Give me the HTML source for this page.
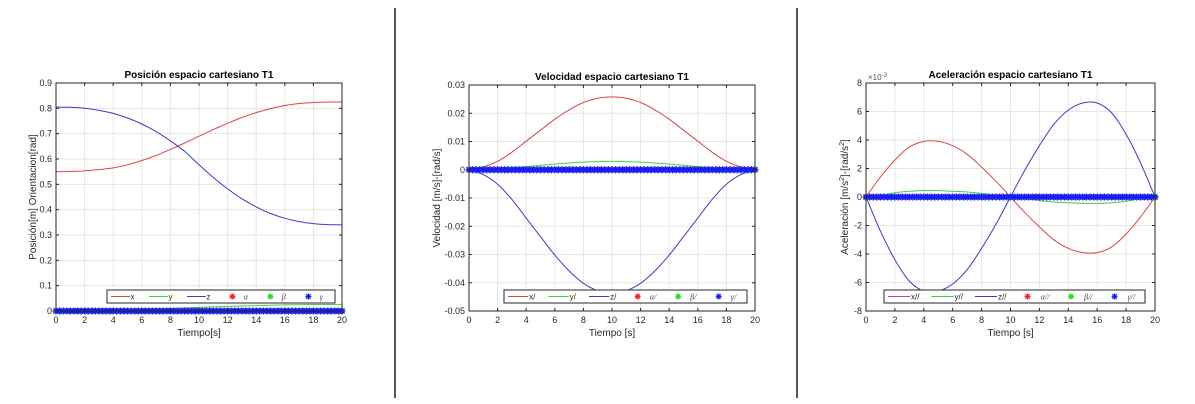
<!DOCTYPE html>
<html><head><meta charset="utf-8"><style>
html,body{margin:0;padding:0;background:#fff;width:1195px;height:404px;overflow:hidden}
svg{display:block;font-family:"Liberation Sans",sans-serif}
</style></head><body>
<svg id="fig" width="1195" height="404">
<line x1="395" y1="8" x2="395" y2="398" stroke="#222" stroke-width="1.5"/>
<line x1="797" y1="8" x2="797" y2="398" stroke="#222" stroke-width="1.5"/>
</svg>
<script>
const times = [0,1,2,3,4,5,6,7,8,9,10,11,12,13,14,15,16,17,18,19,20];
const markerTimes = [0,0.25,0.5,0.75,1,1.25,1.5,1.75,2,2.25,2.5,2.75,3,3.25,3.5,3.75,4,4.25,4.5,4.75,5,5.25,5.5,5.75,6,6.25,6.5,6.75,7,7.25,7.5,7.75,8,8.25,8.5,8.75,9,9.25,9.5,9.75,10,10.25,10.5,10.75,11,11.25,11.5,11.75,12,12.25,12.5,12.75,13,13.25,13.5,13.75,14,14.25,14.5,14.75,15,15.25,15.5,15.75,16,16.25,16.5,16.75,17,17.25,17.5,17.75,18,18.25,18.5,18.75,19,19.25,19.5,19.75,20];
const angleZeros = [0,0,0,0,0,0,0,0,0,0,0,0,0,0,0,0,0,0,0,0,0,0,0,0,0,0,0,0,0,0,0,0,0,0,0,0,0,0,0,0,0,0,0,0,0,0,0,0,0,0,0,0,0,0,0,0,0,0,0,0,0,0,0,0,0,0,0,0,0,0,0,0,0,0,0,0,0,0,0,0,0];

const posX = [0.55,0.5505,0.553,0.558,0.565,0.577,0.594,0.614,0.638,0.663,0.690,0.716,0.741,0.764,0.783,0.799,0.811,0.819,0.823,0.825,0.825];
const posY = [0,0.0002,0.0008,0.0017,0.003,0.0045,0.0063,0.0082,0.0102,0.0122,0.0142,0.0162,0.0181,0.0199,0.0215,0.0229,0.024,0.0249,0.0255,0.0258,0.026];
const posZ = [0.805,0.804,0.800,0.792,0.780,0.762,0.738,0.708,0.672,0.630,0.577,0.527,0.482,0.443,0.411,0.385,0.366,0.353,0.345,0.341,0.340];
const velX = [0,0.0010,0.0030,0.0062,0.0101,0.0140,0.0179,0.0212,0.0238,0.0253,0.0258,0.0253,0.0238,0.0212,0.0179,0.0140,0.0101,0.0062,0.0030,0.0010,0];
const velY = [0,0.0001,0.0004,0.0007,0.0011,0.0016,0.0020,0.0024,0.0027,0.0029,0.003,0.0029,0.0027,0.0024,0.0020,0.0016,0.0011,0.0007,0.0004,0.0001,0];
const velZ = [0,-0.0017,-0.0051,-0.0105,-0.0171,-0.0237,-0.0302,-0.0358,-0.0402,-0.0428,-0.0436,-0.0428,-0.0402,-0.0358,-0.0302,-0.0237,-0.0171,-0.0105,-0.0051,-0.0017,0];
const accX = [0,0.0014,0.0026,0.0035,0.0039,0.0039,0.0036,0.0030,0.0021,0.0011,0,-0.0011,-0.0021,-0.0030,-0.0036,-0.0039,-0.0039,-0.0035,-0.0026,-0.0014,0];
const accY = [0,0.0001,0.0003,0.0004,0.00045,0.00045,0.0004,0.00035,0.00025,0.0001,0,-0.0001,-0.00025,-0.00035,-0.0004,-0.00045,-0.00045,-0.0004,-0.0003,-0.0001,0];
const accZ = [0,-0.0024,-0.0044,-0.0059,-0.0066,-0.0066,-0.0061,-0.0051,-0.0036,-0.0019,0,0.0019,0.0036,0.0051,0.0061,0.0066,0.0066,0.0059,0.0044,0.0024,0];

const xTicks = [0,2,4,6,8,10,12,14,16,18,20];
const posTicks = [0,0.1,0.2,0.3,0.4,0.5,0.6,0.7,0.8,0.9];
const posTickLabels = ["0","0.1","0.2","0.3","0.4","0.5","0.6","0.7","0.8","0.9"];
const velTicks = [-0.05,-0.04,-0.03,-0.02,-0.01,0,0.01,0.02,0.03];
const velTickLabels = ["-0.05","-0.04","-0.03","-0.02","-0.01","0","0.01","0.02","0.03"];
const accTicks = [-0.008,-0.006,-0.004,-0.002,0,0.002,0.004,0.006,0.008];
const accTickLabels = ["-8","-6","-4","-2","0","2","4","6","8"];

const NS="http://www.w3.org/2000/svg";
const svg=document.getElementById('fig');
function mk(tag,attrs,parent,txt){const e=document.createElementNS(NS,tag);for(const k in attrs)e.setAttribute(k,attrs[k]);if(txt!==undefined)e.textContent=txt;(parent||svg).appendChild(e);return e;}
function smooth(pts){
  let d='M'+pts[0][0].toFixed(1)+','+pts[0][1].toFixed(1);
  for(let i=0;i<pts.length-1;i++){
    const p0=pts[i-1]||pts[i],p1=pts[i],p2=pts[i+1],p3=pts[i+2]||p2;
    const c1x=p1[0]+(p2[0]-p0[0])/6,c1y=p1[1]+(p2[1]-p0[1])/6;
    const c2x=p2[0]-(p3[0]-p1[0])/6,c2y=p2[1]-(p3[1]-p1[1])/6;
    d+=`C${c1x.toFixed(1)},${c1y.toFixed(1)} ${c2x.toFixed(1)},${c2y.toFixed(1)} ${p2[0].toFixed(1)},${p2[1].toFixed(1)}`;
  }
  return d;
}

function panel(cfg){
  const g=mk('g',{});
  
  
  const L=cfg.L,R=cfg.R,T=cfg.T,B=cfg.B;
  const sx=t=>L+(t-0)/20*(R-L);
  const sy=v=>B-(v-cfg.ymin)/(cfg.ymax-cfg.ymin)*(B-T);
  xTicks.forEach(t=>{const l=mk('line',{x1:sx(t),x2:sx(t),y1:T,y2:B,stroke:'#e6e6e6','stroke-width':1},g);
    });
  cfg.yt.forEach(v=>{const l=mk('line',{x1:L,x2:R,y1:sy(v),y2:sy(v),stroke:'#e6e6e6','stroke-width':1},g);
    });
  const cols=['#d9464a','#3fd13f','#3b3bc8'];
  cfg.series.forEach((s,i)=>{
    const d=smooth(times.map((t,j)=>[sx(t),sy(s[j])]));
    const p=mk('path',{d:d,fill:'none',stroke:cols[i],'stroke-width':1},g);
    
    
  });
  const mcols=['#ff2020','#20e020','#1a1aff'];
  mcols.forEach((c,i)=>{
    const mg=mk('g',{stroke:c,'stroke-width':1.3},g);
    
    
    markerTimes.forEach((t,j)=>{
      const x=sx(t),y=sy(angleZeros[j]);
      mk('path',{d:`M${x-3.5},${y}h7M${x},${y-3.5}v7M${x-2.5},${y-2.5}l5,5M${x-2.5},${y+2.5}l5,-5`},mg);
    });
  });
  const box=mk('rect',{x:L,y:T,width:R-L,height:B-T,fill:'none',stroke:'#262626','stroke-width':1},g);
  
  xTicks.forEach(t=>{
    mk('line',{x1:sx(t),x2:sx(t),y1:B,y2:B-3,stroke:'#262626'},g);
    mk('line',{x1:sx(t),x2:sx(t),y1:T,y2:T+3,stroke:'#262626'},g);
    const tx=mk('text',{x:sx(t),y:B+12,'font-size':9,fill:'#262626','text-anchor':'middle'},g,String(t));
    
  });
  cfg.yt.forEach((v,i)=>{
    mk('line',{x1:L,x2:L+3,y1:sy(v),y2:sy(v),stroke:'#262626'},g);
    mk('line',{x1:R,x2:R-3,y1:sy(v),y2:sy(v),stroke:'#262626'},g);
    const tx=mk('text',{x:L-4,y:sy(v)+3,'font-size':9,fill:'#262626','text-anchor':'end'},g,cfg.ytl[i]);
    
  });
  if(cfg.exp){const e=mk('text',{x:L+2,y:T-3,'font-size':8,fill:'#555'},g,'×10');
    mk('tspan',{dy:-3,'font-size':6},e,'-3');
    }
  const tt=mk('text',{x:(L+R)/2,y:T-5,'font-size':10,'font-weight':'bold','text-anchor':'middle',fill:'#000'},g,cfg.title);
  
  const xl=mk('text',{x:(L+R)/2,y:B+25,'font-size':10,'text-anchor':'middle',fill:'#262626'},g,cfg.xlabel);
  
  const yl=mk('text',{x:0,y:0,'font-size':10,'text-anchor':'middle',fill:'#262626',transform:`translate(${cfg.ylx},${(T+B)/2}) rotate(-90)`},g);
  yl.innerHTML=cfg.ylabel;
  
  const lg=mk('g',{},g);
  
  const lx=cfg.lg[0],lw=cfg.lg[1],ly=290,lh=13;
  mk('rect',{x:lx,y:ly,width:lw,height:lh,fill:'#fff',stroke:'#262626','stroke-width':1},lg);
  const step=lw/6;
  for(let i=0;i<6;i++){
    const x0=lx+i*step;const cy=ly+lh/2;
    const ent=mk('g',{},lg);
    
    if(i<3){mk('line',{x1:x0+4,x2:x0+step*0.6,y1:cy,y2:cy,stroke:cols[i]},ent);
      mk('text',{x:x0+step*0.62,y:cy+3,'font-size':8,fill:'#262626'},ent,cfg.lgt[i]);}
    else{const c=mcols[i-3],x=x0+step*0.3;
      mk('path',{d:`M${x-3},${cy}h6M${x},${cy-3}v6M${x-2.2},${cy-2.2}l4.4,4.4M${x-2.2},${cy+2.2}l4.4,-4.4`,stroke:c,'stroke-width':1.3},ent);
      mk('text',{x:x0+step*0.6,y:cy+3,'font-size':8,'font-style':'italic','font-family':'Liberation Serif,serif',fill:'#444'},ent,cfg.lgt[i]);}
  }
}
panel({name:'position-chart',L:56,R:342,T:83,B:311,ymin:0,ymax:0.9,yt:posTicks,ytl:posTickLabels,series:[posX,posY,posZ],names:['x','y','z'],
  title:'Posición espacio cartesiano T1',xlabel:'Tiempo[s]',ylabel:'Posición[m] Orientacion[rad]',ylx:36,lg:[107,228],lgt:['x','y','z','α','β','γ']});
panel({name:'velocity-chart',L:469,R:755,T:85,B:311,ymin:-0.05,ymax:0.03,yt:velTicks,ytl:velTickLabels,series:[velX,velY,velZ],names:['x-vel','y-vel','z-vel'],
  title:'Velocidad espacio cartesiano T1',xlabel:'Tiempo [s]',ylabel:'Velocidad [m/s]-[rad/s]',ylx:440,lg:[504,243],lgt:['x/','y/','z/','α/','β/','γ/']});
panel({name:'acceleration-chart',L:866,R:1155,T:83,B:311,ymin:-0.008,ymax:0.008,yt:accTicks,ytl:accTickLabels,series:[accX,accY,accZ],names:['x-acc','y-acc','z-acc'],exp:true,
  title:'Aceleración espacio cartesiano T1',xlabel:'Tiempo [s]',ylabel:'Aceleración [m/s<tspan dy="-4" font-size="7">2</tspan><tspan dy="4">]-[rad/s</tspan><tspan dy="-4" font-size="7">2</tspan><tspan dy="4">]</tspan>',ylx:848,lg:[884,261],lgt:['x//','y//','z//','α//','β//','γ//']});
</script>
</body></html>
